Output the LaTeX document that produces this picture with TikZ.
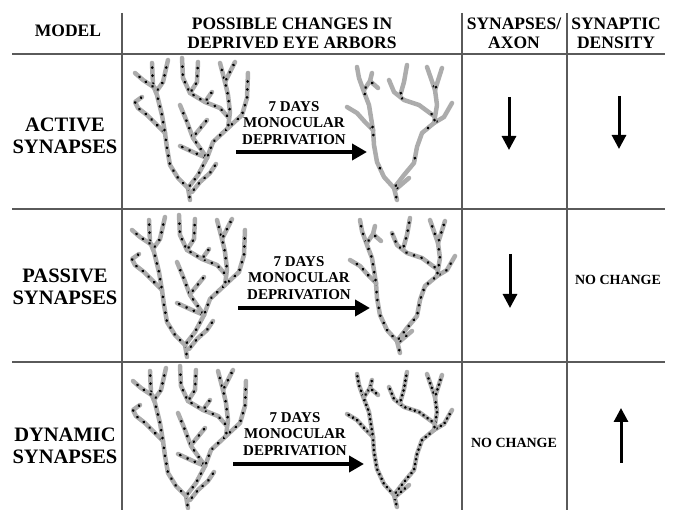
\documentclass[tikz,border=0pt]{standalone}
\usepackage{fontspec}
\setmainfont{LiberationSerif}[Extension=.ttf,UprightFont=*-Regular,BoldFont=*-Bold]
\usetikzlibrary{arrows.meta,decorations.markings,positioning}
\definecolor{arbgray}{RGB}{172,172,172}
\definecolor{rulegray}{RGB}{90,90,90}

\tikzset{
  dend/.style={draw=arbgray, line width=4.5pt, line cap=round, line join=round,
    postaction={decorate, decoration={markings,
      mark=between positions 3pt and -1pt step #1 with {\fill[black] (0,0) circle (1.5pt);}}}},
  % arbor before deprivation
  pics/arborL/.style={code={
    \draw[dend=#1] (0,0) -- (-2,-12) -- (-12,-22) -- (-20,-35) -- (-23,-52) -- (-25,-67);
    \draw[dend=#1] (-25,-67) -- (-35,-77) -- (-43,-85) -- (-52,-92) -- (-55,-98) -- (-48,-103);
    \draw[dend=#1] (-25,-67) -- (-28,-85) -- (-33,-105) -- (-37,-115) -- (-38,-137);
    \draw[dend=#1] (-34,-108) -- (-27,-118) -- (-22,-140);
    \draw[dend=#1] (-35,-112) -- (-47,-120) -- (-55,-127);
    \draw[dend=#1] (2,-8) -- (10,-18) -- (20,-27) -- (26,-36);
    \draw[dend=#1] (-2,-12) -- (8,-25) -- (17,-42);
    \draw[dend=#1] (17,-42) -- (5,-47) -- (-10,-54);
    \draw[dend=#1] (17,-42) -- (3,-62) -- (-3,-78) -- (-10,-95);
    \draw[dend=#1] (4,-64) -- (17,-80);
    \draw[dend=#1] (17,-42) -- (23,-58) -- (38,-72) -- (52,-85) -- (57,-102) -- (58,-127);
    \draw[dend=#1] (38,-72) -- (40,-88) -- (38,-105) -- (35,-118) -- (30,-137);
    \draw[dend=#1] (35,-118) -- (45,-138);
    \draw[dend=#1] (39,-82) -- (30,-92) -- (15,-98) -- (0,-107) -- (-7,-122) -- (-8,-142);
    \draw[dend=#1] (0,-107) -- (7,-118) -- (8,-138);
    \draw[dend=#1] (15,-98) -- (22,-108);
  }},
  % arbor after deprivation
  pics/arborR/.style={code={
    \draw[dend=#1] (0,0) -- (-3,-12) -- (-13,-23) -- (-20,-38) -- (-23,-55) -- (-24,-70);
    \draw[dend=#1] (-2,-10) -- (12,-22);
    \draw[dend=#1] (-24,-70) -- (-32,-78) -- (-40,-87) -- (-50,-93);
    \draw[dend=#1] (-24,-70) -- (-28,-95) -- (-33,-108) -- (-38,-122) -- (-40,-133);
    \draw[dend=#1] (-33,-110) -- (-27,-119) -- (-25,-127);
    \draw[dend=#1] (-27,-119) -- (-19,-112);
    \draw[dend=#1] (-3,-12) -- (7,-25) -- (17,-37) -- (20,-53) -- (25,-67) -- (37,-77);
    \draw[dend=#1] (37,-77) -- (47,-83) -- (55,-97);
    \draw[dend=#1] (37,-77) -- (40,-95) -- (38,-110) -- (30,-133);
    \draw[dend=#1] (38,-110) -- (45,-132);
    \draw[dend=#1] (37,-84) -- (22,-95) -- (7,-100) -- (-3,-108) -- (-8,-120);
    \draw[dend=#1] (3,-104) -- (7,-118) -- (10,-135);
  }},
}

\begin{document}
\begin{tikzpicture}[x=1pt,y=-1pt,
    rule/.style={draw=rulegray,line width=1.6pt},
    hdr/.style={font=\fontsize{17.5}{19}\selectfont\bfseries,align=center,inner sep=0pt},
    model/.style={font=\fontsize{20.5}{22}\selectfont\bfseries,align=center,inner sep=0pt},
    deprv/.style={font=\fontsize{15}{16.5}\selectfont\bfseries,align=center,inner sep=0pt},
    nochg/.style={font=\fontsize{14}{16}\selectfont\bfseries,inner sep=0pt},
    bigarrow/.style={-{Triangle[length=15pt,width=16pt]},line width=4pt},
    colarrow/.style={-{Triangle[length=14pt,width=14pt]},line width=3pt}]
  \useasboundingbox (0,0) rectangle (673,510);
  % table
  \draw[rule,line width=2.4pt] (12,54) -- (665,54);
  \draw[rule] (12,209) -- (665,209);
  \draw[rule] (12,362) -- (665,362);
  \draw[rule,line width=1.3pt] (122,13) -- (122,510);
  \draw[rule,line width=1.3pt] (462,13) -- (462,510);
  \draw[rule,line width=1.3pt] (567,13) -- (567,510);
  % header
  \node[hdr] (mdl) at (68,31) {MODEL};
  \node[hdr] (chg) at (292,33) {POSSIBLE CHANGES IN\\DEPRIVED EYE ARBORS};
  \node[hdr] (spa) at (514,33) {SYNAPSES/\\AXON};
  \node[hdr] (den) at (616,33) {SYNAPTIC\\DENSITY};
  % models
  \node[model] (act) at (65,136) {ACTIVE\\SYNAPSES};
  \node[model] (pas) at (65,287) {PASSIVE\\SYNAPSES};
  \node[model] (dyn) at (65,446) {DYNAMIC\\SYNAPSES};
  % arbors
  \pic at (190,200) {arborL=8pt};
  \pic at (397,200) {arborR=34pt};
  \pic at (187,357) {arborL=8pt};
  \pic at (400,353) {arborR=8pt};
  \pic at (188,508) {arborL=8pt};
  \pic at (397,507) {arborR=5pt};
  % deprivation
  \node[deprv] (d1) at (294,123) {7 DAYS\\MONOCULAR\\DEPRIVATION};
  \node[deprv] (d2) at (299,278) {7 DAYS\\MONOCULAR\\DEPRIVATION};
  \node[deprv] (d3) at (295,434) {7 DAYS\\MONOCULAR\\DEPRIVATION};
  \coordinate (a1s) at (236,152); \coordinate (a1e) at (367,152);
  \coordinate (a2s) at (238,308); \coordinate (a2e) at (370,308);
  \coordinate (a3s) at (233,464); \coordinate (a3e) at (364,464);
  \draw[bigarrow] (a1s) -- (a1e);
  \draw[bigarrow] (a2s) -- (a2e);
  \draw[bigarrow] (a3s) -- (a3e);
  % outcomes
  \coordinate (s1t) at (509,97); \coordinate (s1h) at (509,150);
  \coordinate (n1t) at (619,96); \coordinate (n1h) at (619,149);
  \coordinate (s2t) at (510,254); \coordinate (s2h) at (510,308);
  \coordinate (n3t) at (621,463); \coordinate (n3h) at (621,408);
  \draw[colarrow] (s1t) -- (s1h);
  \draw[colarrow] (n1t) -- (n1h);
  \draw[colarrow] (s2t) -- (s2h);
  \draw[colarrow] (n3t) -- (n3h);
  \node[nochg] (nc2) at (618,280) {NO CHANGE};
  \node[nochg] (nc3) at (514,443) {NO CHANGE};
\end{tikzpicture}
\end{document}
